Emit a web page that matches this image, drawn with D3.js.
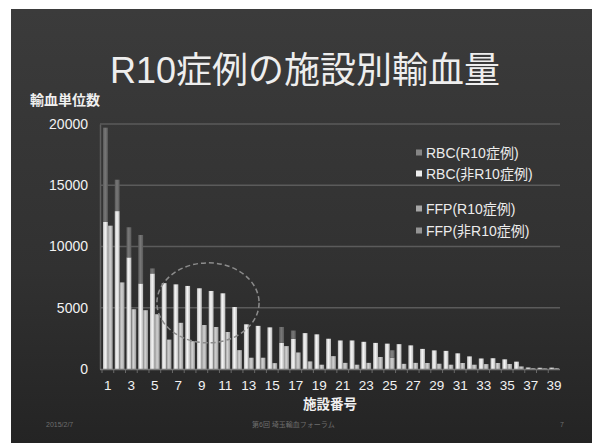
<!DOCTYPE html>
<html>
<head>
<meta charset="utf-8">
<script src="https://cdn.jsdelivr.net/npm/d3@7"></script>
<style>
  html, body { margin: 0; padding: 0; background: #fff; }
  svg { display: block; }
  text { font-family: "Liberation Sans", Arial, "Noto Sans CJK JP", sans-serif; }
</style>
</head>
<body>
<svg id="chart" width="592" height="443"></svg>
<script>
// Facility numbers 1..39
const facilities = ["1","2","3","4","5","6","7","8","9","10","11","12","13","14","15","16","17","18","19","20",
  "21","22","23","24","25","26","27","28","29","30","31","32","33","34","35","36","37","38","39"];

// RBC units, non-R10 cases (lower segment) and R10 cases (upper segment)
const rbcNonR10 = [12000,12890,9110,6980,7800,7010,6910,6780,6590,6370,6180,5060,3650,3520,3400,2150,2470,2930,2830,2470,
  2330,2330,2220,2130,2070,2030,1930,1640,1520,1480,1280,1030,860,880,790,600,120,100,110];
const rbcR10 = [7700,2560,2460,3960,410,0,0,0,0,0,0,0,0,0,0,1280,670,0,0,0,
  0,0,0,0,0,0,0,0,0,0,0,0,0,0,0,0,0,0,0];

// FFP units, non-R10 cases (lower segment) and R10 cases (upper segment)
const ffpNonR10 = [11700,7070,4880,4800,4470,2400,3770,2270,3590,3430,3020,1540,920,920,480,1870,1350,620,350,1050,
  500,350,500,980,930,420,500,490,430,350,490,350,400,490,410,210,60,50,60];
const ffpR10 = [0,0,0,0,0,0,0,0,0,0,0,0,0,0,0,0,0,0,0,0,
  0,0,0,0,600,0,0,0,0,0,0,0,0,0,0,0,0,0,0];

const yTicks = [0, 5000, 10000, 15000, 20000];
const xTickLabels = facilities.filter((d, i) => i % 2 === 0);

const seriesNames = ["RBC(R10症例)", "RBC(非R10症例)", "FFP(R10症例)", "FFP(非R10症例)"];

const svg = d3.select("#chart");
const W = 592, H = 443;

// Slide background
const defs = svg.append("defs");
const bg = defs.append("linearGradient").attr("id", "bg").attr("x1", 0).attr("y1", 0).attr("x2", 0).attr("y2", 1);
bg.append("stop").attr("offset", "0%").attr("stop-color", "#3b3b3b");
bg.append("stop").attr("offset", "60%").attr("stop-color", "#313131");
bg.append("stop").attr("offset", "100%").attr("stop-color", "#242424");

function barGrad(id, edge, mid) {
  const g = defs.append("linearGradient").attr("id", id).attr("x1", 0).attr("y1", 0).attr("x2", 1).attr("y2", 0);
  g.append("stop").attr("offset", "0%").attr("stop-color", edge);
  g.append("stop").attr("offset", "45%").attr("stop-color", mid);
  g.append("stop").attr("offset", "100%").attr("stop-color", edge);
}
barGrad("gRbcNon", "#b9b9b9", "#f6f6f6");
barGrad("gRbcR10", "#5a5a5a", "#787878");
barGrad("gFfpNon", "#9a9a9a", "#d2d2d2");
barGrad("gFfpR10", "#626262", "#858585");

svg.append("rect").attr("x", 0).attr("y", 0).attr("width", W).attr("height", H).attr("fill", "#fff");
svg.append("rect").attr("x", 11).attr("y", 9).attr("width", W - 11).attr("height", H - 9).attr("fill", "url(#bg)");

// Title
svg.append("text")
  .attr("x", 305).attr("y", 83)
  .attr("text-anchor", "middle")
  .attr("font-size", 36)
  .attr("fill", "#eeeeee")
  .text("R10症例の施設別輸血量");

// Scales
const plot = { left: 100, right: 560, top: 124, bottom: 369 };
const x = d3.scaleBand().domain(facilities).range([plot.left + 2, plot.right]).paddingInner(0.12).paddingOuter(0.06);
const xInner = d3.scaleBand().domain(["RBC", "FFP"]).range([0, x.bandwidth()]).padding(0);
const y = d3.scaleLinear().domain([0, 20000]).range([plot.bottom, plot.top]);

// Gridlines
svg.append("g")
  .selectAll("line")
  .data(yTicks.filter(d => d > 0))
  .join("line")
  .attr("x1", plot.left).attr("x2", plot.right)
  .attr("y1", d => y(d)).attr("y2", d => y(d))
  .attr("stroke", "#5b5b5b").attr("stroke-width", 1.6);

// Y axis
const yAxis = svg.append("g")
  .attr("transform", `translate(${plot.left},0)`)
  .call(d3.axisLeft(y).tickValues(yTicks).tickSize(0).tickPadding(12).tickFormat(d3.format("d")));
yAxis.select(".domain").attr("stroke", "#5e5e5e").attr("stroke-width", 1.5);
yAxis.selectAll("text").attr("fill", "#f2f2f2").attr("font-size", 14).attr("font-family", "Liberation Sans, Arial, sans-serif");

// Y axis title
svg.append("text")
  .attr("x", 30).attr("y", 105)
  .attr("font-size", 14).attr("font-weight", "bold")
  .attr("fill", "#f0f0f0")
  .text("輸血単位数");

// Stacked bars: RBC and FFP side by side per facility
const rows = facilities.map((f, i) => ({
  f,
  segs: [
    { kind: "RBC", y0: 0, y1: rbcNonR10[i], fill: "url(#gRbcNon)" },
    { kind: "RBC", y0: rbcNonR10[i], y1: rbcNonR10[i] + rbcR10[i], fill: "url(#gRbcR10)" },
    { kind: "FFP", y0: 0, y1: ffpNonR10[i], fill: "url(#gFfpNon)" },
    { kind: "FFP", y0: ffpNonR10[i], y1: ffpNonR10[i] + ffpR10[i], fill: "url(#gFfpR10)" }
  ]
}));

svg.append("g")
  .selectAll("g")
  .data(rows)
  .join("g")
  .attr("transform", d => `translate(${x(d.f)},0)`)
  .selectAll("rect")
  .data(d => d.segs.filter(s => s.y1 > s.y0))
  .join("rect")
  .attr("x", s => xInner(s.kind) + (s.kind === "RBC" ? 0.3 : 0))
  .attr("width", s => xInner.bandwidth() - 0.3)
  .attr("y", s => y(s.y1))
  .attr("height", s => y(s.y0) - y(s.y1))
  .attr("fill", s => s.fill);

// X axis
const xAxis = svg.append("g")
  .attr("transform", `translate(0,${plot.bottom})`)
  .call(d3.axisBottom(x).tickValues(xTickLabels).tickSize(0).tickPadding(11));
xAxis.select(".domain").remove();
xAxis.selectAll("text").attr("fill", "#f2f2f2").attr("font-size", 13.5).attr("font-family", "Liberation Sans, Arial, sans-serif");

svg.append("line")
  .attr("x1", plot.left).attr("x2", plot.right)
  .attr("y1", plot.bottom + 0.5).attr("y2", plot.bottom + 0.5)
  .attr("stroke", "#777").attr("stroke-width", 1.5);

// Category separator ticks under the baseline
svg.append("g")
  .selectAll("line")
  .data(facilities)
  .join("line")
  .attr("x1", d => x(d) - x.step() * x.paddingInner() / 2)
  .attr("x2", d => x(d) - x.step() * x.paddingInner() / 2)
  .attr("y1", plot.bottom).attr("y2", plot.bottom + 4)
  .attr("stroke", "#6a6a6a").attr("stroke-width", 1);

// X axis title
svg.append("text")
  .attr("x", 330).attr("y", 409)
  .attr("text-anchor", "middle")
  .attr("font-size", 13.5).attr("font-weight", "bold")
  .attr("fill", "#f0f0f0")
  .text("施設番号");

// Dashed ellipse highlighting facilities 6-12
const ex = x("9") + x.bandwidth() + 1;
svg.append("ellipse")
  .attr("cx", ex).attr("cy", y(5400))
  .attr("rx", x.step() * 4.35).attr("ry", 40)
  .attr("fill", "none")
  .attr("stroke", "#8c8c8c").attr("stroke-width", 1.5)
  .attr("stroke-dasharray", "5,3");

// Legend
const legendY = [153, 174, 209, 231];
const legendFill = ["#858585", "#eeeeee", "#a6a6a6", "#949494"];
const lg = svg.append("g");
seriesNames.forEach((name, i) => {
  lg.append("rect")
    .attr("x", 416).attr("y", legendY[i] - 3.5)
    .attr("width", 6).attr("height", 6)
    .attr("fill", legendFill[i]);
  lg.append("text")
    .attr("x", 426).attr("y", legendY[i] + 5)
    .attr("font-size", 14)
    .attr("fill", "#ececec")
    .text(name);
});

// Footer
const foot = svg.append("g").attr("fill", "#6e6e6e").attr("font-size", 7);
foot.append("text").attr("x", 46).attr("y", 427).text("2015/2/7");
foot.append("text").attr("x", 252).attr("y", 427).text("第6回 埼玉輸血フォーラム");
foot.append("text").attr("x", 560).attr("y", 427).text("7");
</script>
</body>
</html>
